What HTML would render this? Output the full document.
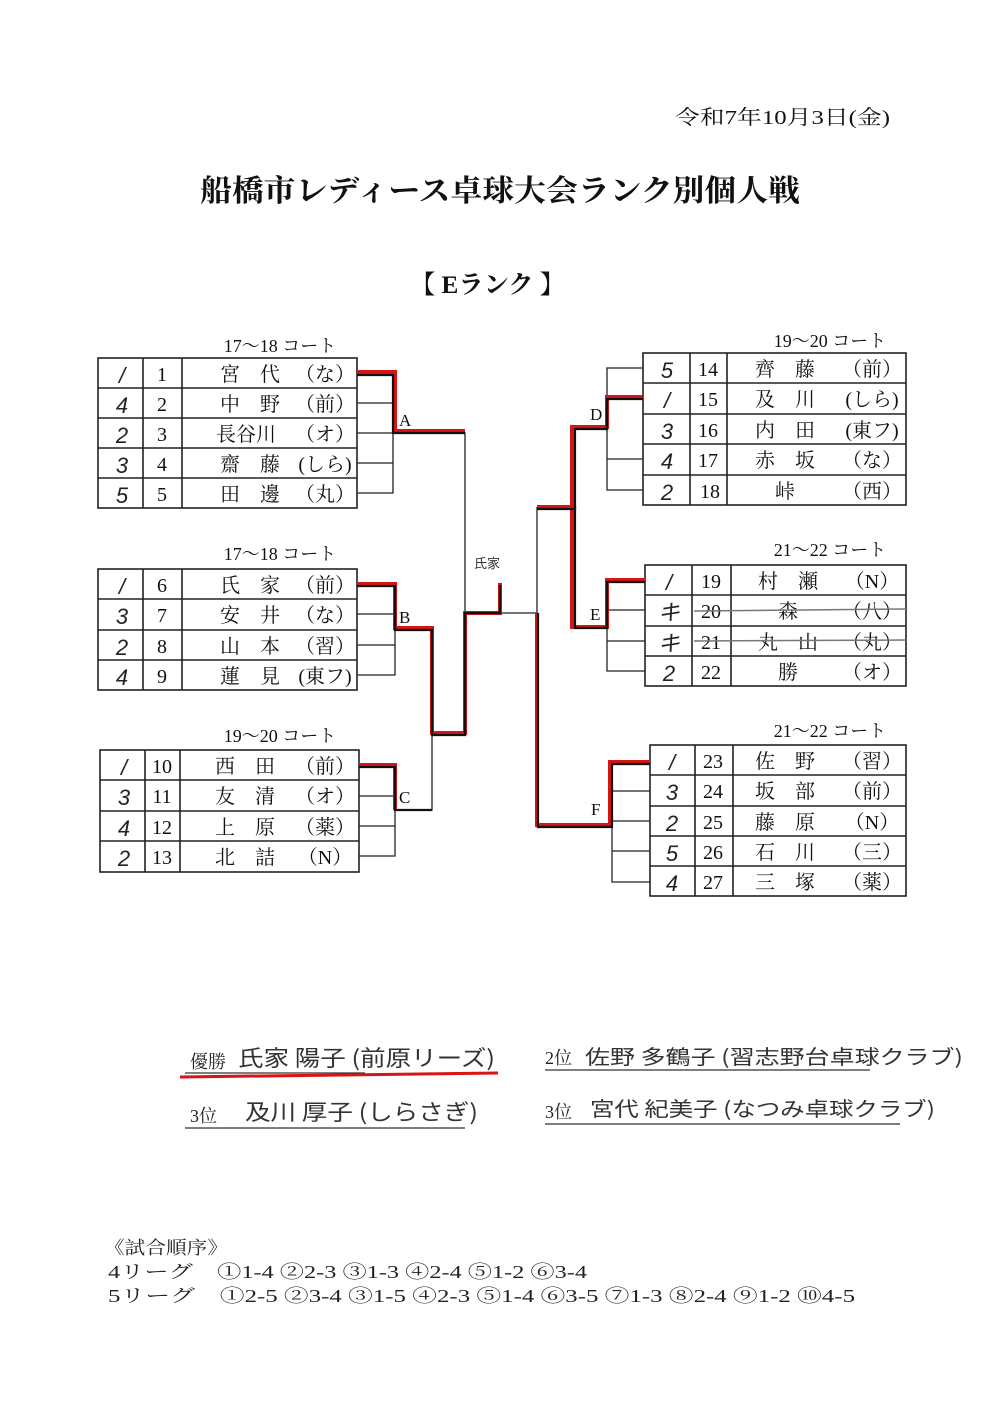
<!DOCTYPE html>
<html><head><meta charset="utf-8"><style>
html,body{margin:0;padding:0;background:#fff}
svg{display:block}
.t{font-family:"Liberation Serif","Noto Serif CJK SC",serif;fill:#111}
.h{font-family:"Liberation Sans","Noto Sans CJK JP",sans-serif;fill:#222;font-style:italic}
.n{font-size:20px}
.s{font-size:22px}
</style></head><body>
<svg width="1000" height="1413" viewBox="0 0 1000 1413" xmlns="http://www.w3.org/2000/svg">
<g class="t">
<text x="675" y="124" font-size="20" textLength="215" lengthAdjust="spacingAndGlyphs">令和7年10月3日(金)</text>
<text x="200" y="201" font-size="30" font-weight="bold" textLength="600" lengthAdjust="spacingAndGlyphs">船橋市レディース卓球大会ランク別個人戦</text>
<text x="410" y="293" font-size="25" font-weight="bold" textLength="155" lengthAdjust="spacingAndGlyphs">【 Eランク 】</text>
<text x="280" y="352" font-size="18" text-anchor="middle">17〜18 コート</text>
<text x="280" y="560" font-size="18" text-anchor="middle">17〜18 コート</text>
<text x="280" y="742" font-size="18" text-anchor="middle">19〜20 コート</text>
<text x="830" y="347" font-size="18" text-anchor="middle">19〜20 コート</text>
<text x="830" y="556" font-size="18" text-anchor="middle">21〜22 コート</text>
<text x="830" y="737" font-size="18" text-anchor="middle">21〜22 コート</text>
</g>

<g fill="none" stroke="#222" stroke-width="1.6">
<rect x="98" y="358" width="259" height="150"/>
<line x1="143" y1="358" x2="143" y2="508"/><line x1="182" y1="358" x2="182" y2="508"/>
<line x1="98" y1="388" x2="357" y2="388"/><line x1="98" y1="418" x2="357" y2="418"/><line x1="98" y1="448" x2="357" y2="448"/><line x1="98" y1="478" x2="357" y2="478"/>
<rect x="98" y="569" width="259" height="121"/>
<line x1="143" y1="569" x2="143" y2="690"/><line x1="182" y1="569" x2="182" y2="690"/>
<line x1="98" y1="599" x2="357" y2="599"/><line x1="98" y1="630" x2="357" y2="630"/><line x1="98" y1="660" x2="357" y2="660"/>
<rect x="100" y="750" width="259" height="122"/>
<line x1="145" y1="750" x2="145" y2="872"/><line x1="180" y1="750" x2="180" y2="872"/>
<line x1="100" y1="780" x2="359" y2="780"/><line x1="100" y1="811" x2="359" y2="811"/><line x1="100" y1="841" x2="359" y2="841"/>
<rect x="643" y="353" width="263" height="152"/>
<line x1="690" y1="353" x2="690" y2="505"/><line x1="727" y1="353" x2="727" y2="505"/>
<line x1="643" y1="383" x2="906" y2="383"/><line x1="643" y1="414" x2="906" y2="414"/><line x1="643" y1="444" x2="906" y2="444"/><line x1="643" y1="475" x2="906" y2="475"/>
<rect x="645" y="565" width="261" height="121"/>
<line x1="692" y1="565" x2="692" y2="686"/><line x1="731" y1="565" x2="731" y2="686"/>
<line x1="645" y1="595" x2="906" y2="595"/><line x1="645" y1="626" x2="906" y2="626"/><line x1="645" y1="656" x2="906" y2="656"/>
<rect x="650" y="745" width="256" height="151"/>
<line x1="695" y1="745" x2="695" y2="896"/><line x1="733" y1="745" x2="733" y2="896"/>
<line x1="650" y1="775" x2="906" y2="775"/><line x1="650" y1="806" x2="906" y2="806"/><line x1="650" y1="836" x2="906" y2="836"/><line x1="650" y1="866" x2="906" y2="866"/>
</g>

<g fill="none" stroke="#222" stroke-width="1.3">
<path d="M357 403H393M357 433H393M357 463H393M357 493H393V373"/>
<path d="M393 433H465V613"/>
<path d="M357 614H395M357 645H395M357 675H395V599"/>
<path d="M359 796H395M359 826H395M359 856H395V765"/>
<path d="M395 810H432V733"/>
<path d="M500 613H537"/>
<path d="M643 368H607V490H643M607 399H643M607 459H643M607 490"/>
<path d="M645 610H607V671H645M607 641H645"/>
<path d="M650 791H612V882H650M612 821H650M612 851H650"/>
<path d="M537 507V613"/>
</g>
<g fill="none" stroke="#d81414" stroke-width="4">
<path d="M357 372H395V431H465"/>
<path d="M357 584H395V628H432V733H465V613H500V583"/>
<path d="M359 765H395V810"/>
<path d="M537 507H572V427H607V397H643"/>
<path d="M537 613V825H610V762H650"/>
<path d="M572 507V627H607V580H645"/>
</g>
<g fill="none" stroke="#111" stroke-width="2.2">
<path d="M357 375H393V433H465"/>
<path d="M357 586H395V630H432V735H465V613H500V585"/>
<path d="M359 767H395V810H432"/>
<path d="M537 509H575V429H607V399H643"/>
<path d="M538 613V827H612V764H650"/>
<path d="M575 505V628H607V582H645"/>
</g>

<g class="t" font-size="17">
<text x="399" y="426">A</text><text x="399" y="623">B</text><text x="399" y="803">C</text>
<text x="590" y="420">D</text><text x="590" y="620">E</text><text x="591" y="815">F</text>
</g>
<text x="474" y="568" font-size="13" font-family="Noto Sans CJK JP,sans-serif" fill="#333">氏家</text>

<g class="t n">
<text x="162" y="381" text-anchor="middle">1</text><text x="250" y="381" text-anchor="middle">宮　代</text><text x="325" y="381" text-anchor="middle">（な）</text>
<text x="162" y="411" text-anchor="middle">2</text><text x="250" y="411" text-anchor="middle">中　野</text><text x="325" y="411" text-anchor="middle">（前）</text>
<text x="162" y="441" text-anchor="middle">3</text><text x="246" y="441" text-anchor="middle">長谷川</text><text x="325" y="441" text-anchor="middle">（オ）</text>
<text x="162" y="471" text-anchor="middle">4</text><text x="250" y="471" text-anchor="middle">齋　藤</text><text x="325" y="471" text-anchor="middle">(しら)</text>
<text x="162" y="501" text-anchor="middle">5</text><text x="250" y="501" text-anchor="middle">田　邊</text><text x="325" y="501" text-anchor="middle">（丸）</text>
<text x="162" y="592" text-anchor="middle">6</text><text x="250" y="592" text-anchor="middle">氏　家</text><text x="325" y="592" text-anchor="middle">（前）</text>
<text x="162" y="622" text-anchor="middle">7</text><text x="250" y="622" text-anchor="middle">安　井</text><text x="325" y="622" text-anchor="middle">（な）</text>
<text x="162" y="653" text-anchor="middle">8</text><text x="250" y="653" text-anchor="middle">山　本</text><text x="325" y="653" text-anchor="middle">（習）</text>
<text x="162" y="683" text-anchor="middle">9</text><text x="250" y="683" text-anchor="middle">蓮　見</text><text x="325" y="683" text-anchor="middle">(東フ)</text>
<text x="162" y="773" text-anchor="middle">10</text><text x="245" y="773" text-anchor="middle">西　田</text><text x="325" y="773" text-anchor="middle">（前）</text>
<text x="162" y="803" text-anchor="middle">11</text><text x="245" y="803" text-anchor="middle">友　清</text><text x="325" y="803" text-anchor="middle">（オ）</text>
<text x="162" y="834" text-anchor="middle">12</text><text x="245" y="834" text-anchor="middle">上　原</text><text x="325" y="834" text-anchor="middle">（薬）</text>
<text x="162" y="864" text-anchor="middle">13</text><text x="245" y="864" text-anchor="middle">北　詰</text><text x="325" y="864" text-anchor="middle">（N）</text>
</g>
<g class="t n">
<text x="708" y="376" text-anchor="middle">14</text><text x="785" y="376" text-anchor="middle">齊　藤</text><text x="872" y="376" text-anchor="middle">（前）</text>
<text x="708" y="406" text-anchor="middle">15</text><text x="785" y="406" text-anchor="middle">及　川</text><text x="872" y="406" text-anchor="middle">(しら)</text>
<text x="708" y="437" text-anchor="middle">16</text><text x="785" y="437" text-anchor="middle">内　田</text><text x="872" y="437" text-anchor="middle">(東フ)</text>
<text x="708" y="467" text-anchor="middle">17</text><text x="785" y="467" text-anchor="middle">赤　坂</text><text x="872" y="467" text-anchor="middle">（な）</text>
<text x="710" y="498" text-anchor="middle">18</text><text x="785" y="498" text-anchor="middle">峠</text><text x="872" y="498" text-anchor="middle">（西）</text>
<text x="711" y="588" text-anchor="middle">19</text><text x="788" y="588" text-anchor="middle">村　瀬</text><text x="872" y="588" text-anchor="middle">（N）</text>
<text x="711" y="618" text-anchor="middle">20</text><text x="788" y="618" text-anchor="middle">森</text><text x="872" y="618" text-anchor="middle">（八）</text>
<text x="711" y="649" text-anchor="middle">21</text><text x="788" y="649" text-anchor="middle">丸　山</text><text x="872" y="649" text-anchor="middle">（丸）</text>
<text x="711" y="679" text-anchor="middle">22</text><text x="788" y="679" text-anchor="middle">勝</text><text x="872" y="679" text-anchor="middle">（オ）</text>
<text x="713" y="768" text-anchor="middle">23</text><text x="785" y="768" text-anchor="middle">佐　野</text><text x="872" y="768" text-anchor="middle">（習）</text>
<text x="713" y="798" text-anchor="middle">24</text><text x="785" y="798" text-anchor="middle">坂　部</text><text x="872" y="798" text-anchor="middle">（前）</text>
<text x="713" y="829" text-anchor="middle">25</text><text x="785" y="829" text-anchor="middle">藤　原</text><text x="872" y="829" text-anchor="middle">（N）</text>
<text x="713" y="859" text-anchor="middle">26</text><text x="785" y="859" text-anchor="middle">石　川</text><text x="872" y="859" text-anchor="middle">（三）</text>
<text x="713" y="889" text-anchor="middle">27</text><text x="785" y="889" text-anchor="middle">三　塚</text><text x="872" y="889" text-anchor="middle">（薬）</text>
</g>
<g stroke="#777" stroke-width="1.5"><line x1="694" y1="611" x2="906" y2="609"/><line x1="694" y1="641" x2="906" y2="640"/></g>
<g class="h s" text-anchor="middle">
<text x="122" y="383">/</text><text x="122" y="413">4</text><text x="122" y="443">2</text><text x="122" y="473">3</text><text x="122" y="503">5</text>
<text x="122" y="594">/</text><text x="122" y="624">3</text><text x="122" y="655">2</text><text x="122" y="685">4</text>
<text x="124" y="775">/</text><text x="124" y="805">3</text><text x="124" y="836">4</text><text x="124" y="866">2</text>
<text x="667" y="378">5</text><text x="667" y="408">/</text><text x="667" y="439">3</text><text x="667" y="469">4</text><text x="667" y="500">2</text>
<text x="669" y="590">/</text><text x="669" y="620">キ</text><text x="669" y="651">キ</text><text x="669" y="681">2</text>
<text x="672" y="770">/</text><text x="672" y="800">3</text><text x="672" y="831">2</text><text x="672" y="861">5</text><text x="672" y="891">4</text>
</g>

<g font-family="Liberation Serif,Noto Serif CJK SC,serif" fill="#222">
<text x="190" y="1068" font-size="18">優勝</text>
<text x="238" y="1066" font-size="22" font-family="Noto Sans CJK JP,sans-serif" fill="#333" textLength="257" lengthAdjust="spacingAndGlyphs">氏家 陽子 (前原リーズ)</text>
<text x="545" y="1064" font-size="18">2位</text>
<text x="585" y="1064" font-size="20" font-family="Noto Sans CJK JP,sans-serif" fill="#333" textLength="378" lengthAdjust="spacingAndGlyphs">佐野 多鶴子 (習志野台卓球クラブ)</text>
<text x="190" y="1122" font-size="18">3位</text>
<text x="245" y="1120" font-size="22" font-family="Noto Sans CJK JP,sans-serif" fill="#333" textLength="233" lengthAdjust="spacingAndGlyphs">及川 厚子 (しらさぎ)</text>
<text x="545" y="1118" font-size="18">3位</text>
<text x="590" y="1116" font-size="20" font-family="Noto Sans CJK JP,sans-serif" fill="#333" textLength="345" lengthAdjust="spacingAndGlyphs">宮代 紀美子 (なつみ卓球クラブ)</text>
</g>
<g stroke="#333" stroke-width="1.3">
<line x1="185" y1="1073" x2="365" y2="1073"/>
<line x1="545" y1="1070" x2="870" y2="1070"/>
<line x1="185" y1="1128" x2="465" y2="1128"/>
<line x1="545" y1="1124" x2="900" y2="1124"/>
</g>
<line x1="180" y1="1077" x2="498" y2="1073" stroke="#d81414" stroke-width="3"/>

<g font-family="Liberation Serif,Noto Serif CJK SC,serif" fill="#222" font-size="18">
<text x="104" y="1254" textLength="124" lengthAdjust="spacingAndGlyphs">《試合順序》</text>
<text x="108" y="1278" textLength="479" lengthAdjust="spacingAndGlyphs">4リーグ　①1-4 ②2-3 ③1-3 ④2-4 ⑤1-2 ⑥3-4</text>
<text x="108" y="1302" textLength="747" lengthAdjust="spacingAndGlyphs">5リーグ　①2-5 ②3-4 ③1-5 ④2-3 ⑤1-4 ⑥3-5 ⑦1-3 ⑧2-4 ⑨1-2 ⑩4-5</text>
</g>
</svg>
</body></html>
